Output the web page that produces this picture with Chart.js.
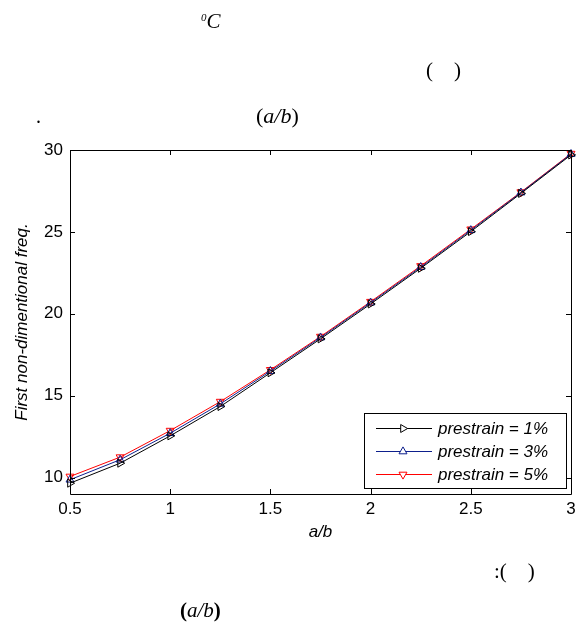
<!DOCTYPE html>
<html>
<head>
<meta charset="utf-8">
<script src="https://cdn.jsdelivr.net/npm/chart.js@4.4.1/dist/chart.umd.min.js"></script>
<style>
  html, body { margin: 0; padding: 0; background: #fff; }
  #wrap { position: relative; width: 581px; height: 624px; overflow: hidden; }
  canvas { position: absolute; left: 0; top: 0; }
  .t { position: absolute; font-family: "Liberation Serif", "Times New Roman", serif; color: #000; white-space: pre; line-height: 1; }
  .i { font-style: italic; }
</style>
</head>
<body>
<div id="wrap">
  <canvas id="c" width="581" height="624"></canvas>
  <div class="t i" style="left:201px;top:11px;font-size:21px;"><sup style="font-size:11px;vertical-align:7px;">0</sup>C</div>
  <div class="t" style="left:426px;top:60px;font-size:21px;">(    )</div>
  <div class="t" style="left:36px;top:106px;font-size:20px;">.</div>
  <div class="t" style="left:256px;top:105px;font-size:22px;">(<span class="i">a/b</span>)</div>
  <div class="t" style="left:494px;top:561px;font-size:21px;">:(    )</div>
  <div class="t" style="left:180px;top:600px;font-size:21px;"><b>(</b><span class="i">a/b</span><b>)</b></div>
</div>
<script>
// ---- data ----
const categories = [0.5, 0.75, 1, 1.25, 1.5, 1.75, 2, 2.25, 2.5, 2.75, 3];
const prestrain1 = [9.66, 10.88, 12.55, 14.34, 16.40, 18.47, 20.60, 22.78, 25.02, 27.35, 29.70];
const prestrain3 = [9.87, 11.09, 12.71, 14.50, 16.50, 18.55, 20.68, 22.85, 25.10, 27.40, 29.75];
const prestrain5 = [10.07, 11.25, 12.87, 14.64, 16.58, 18.61, 20.74, 22.92, 25.16, 27.43, 29.78];
const seriesLabels = ['prestrain = 1%', 'prestrain = 3%', 'prestrain = 5%'];
const xTicks = [0.5, 1, 1.5, 2, 2.5, 3];
const yTicks = [10, 15, 20, 25, 30];
const xTitle = 'a/b';
const yTitle = 'First non-dimentional freq.';

const FONT = "'Liberation Sans', Arial, sans-serif";

function pts(vals) { return categories.map((x, i) => ({ x: x, y: vals[i] })); }

function ds(label, vals, color, rot) {
  return {
    label: label,
    data: pts(vals),
    borderColor: color,
    backgroundColor: color,
    borderWidth: 1,
    pointStyle: 'triangle',
    rotation: rot,
    pointRadius: 4.6,
    pointHoverRadius: 4.6,
    pointBorderColor: color,
    pointBackgroundColor: 'rgba(0,0,0,0)',
    pointBorderWidth: 1,
    tension: 0,
    clip: false
  };
}

const frame = {
  id: 'frame',
  afterDraw(chart) {
    const ctx = chart.ctx, a = chart.chartArea;
    const xs = chart.scales.x, ys = chart.scales.y;
    ctx.save();
    ctx.strokeStyle = '#000';
    ctx.lineWidth = 1;
    ctx.beginPath();
    ctx.rect(Math.round(a.left) + 0.5, Math.round(a.top) + 0.5, Math.round(a.right - a.left), Math.round(a.bottom - a.top));
    ctx.stroke();
    const L = 5;
    ctx.beginPath();
    xs.ticks.forEach(t => {
      const px = Math.round(xs.getPixelForValue(t.value)) + 0.5;
      ctx.moveTo(px, a.bottom); ctx.lineTo(px, a.bottom - L);
      ctx.moveTo(px, a.top); ctx.lineTo(px, a.top + L);
    });
    ys.ticks.forEach(t => {
      const py = Math.round(ys.getPixelForValue(t.value)) + 0.5;
      ctx.moveTo(a.left, py); ctx.lineTo(a.left + L, py);
      ctx.moveTo(a.right, py); ctx.lineTo(a.right - L, py);
    });
    ctx.stroke();

    // legend box (inside the axes, lower right)
    const bx = 364.5, by = 413.5, bw = 202, bh = 75;
    ctx.fillStyle = '#fff';
    ctx.fillRect(bx, by, bw, bh);
    ctx.strokeStyle = '#000';
    ctx.strokeRect(bx, by, bw, bh);
    chart.data.datasets.forEach((d, i) => {
      const y = 428 + i * 23;
      ctx.strokeStyle = d.borderColor;
      ctx.lineWidth = 1;
      ctx.beginPath();
      ctx.moveTo(376, y + 0.5); ctx.lineTo(432, y + 0.5);
      ctx.stroke();
      ctx.fillStyle = '#ffffff';
      ctx.strokeStyle = d.pointBorderColor;
      Chart.helpers.drawPoint(ctx, {
        pointStyle: d.pointStyle, rotation: d.rotation, radius: d.pointRadius, borderWidth: 1
      }, 403, y + 0.5);
      ctx.fillStyle = '#000';
      ctx.font = 'italic 17px ' + FONT;
      ctx.textBaseline = 'middle';
      ctx.textAlign = 'left';
      ctx.fillText(d.label, 438, y + 1);
    });
    ctx.restore();
  }
};

new Chart(document.getElementById('c'), {
  type: 'line',
  data: {
    datasets: [
      ds(seriesLabels[0], prestrain1, '#000000', 90),
      ds(seriesLabels[1], prestrain3, '#0d1f8c', 0),
      ds(seriesLabels[2], prestrain5, '#ff0000', 180)
    ]
  },
  plugins: [frame],
  options: {
    responsive: false,
    animation: false,
    devicePixelRatio: 1,
    layout: { padding: { left: 0, top: 150, right: 10, bottom: 80 } },
    plugins: { legend: { display: false }, tooltip: { enabled: false } },
    scales: {
      x: {
        type: 'linear',
        min: 0.5, max: 3,
        afterBuildTicks: s => { s.ticks = xTicks.map(v => ({ value: v })); },
        afterFit: s => { s.height = 50; },
        grid: { display: false, drawTicks: false },
        border: { display: false },
        ticks: {
          color: '#000', padding: 5, maxRotation: 0, autoSkip: false,
          font: { family: FONT, size: 17 },
          callback: v => String(v)
        },
        title: {
          display: true, text: xTitle, color: '#000',
          font: { family: FONT, size: 17, style: 'italic' },
          padding: { top: 0, bottom: 2 }
        }
      },
      y: {
        type: 'linear',
        min: 9, max: 30,
        afterBuildTicks: s => { s.ticks = yTicks.map(v => ({ value: v })); },
        afterFit: s => { s.width = 70; },
        grid: { display: false, drawTicks: false },
        border: { display: false },
        ticks: {
          color: '#000', padding: 7, autoSkip: false,
          font: { family: FONT, size: 17 },
          callback: v => String(v)
        },
        title: {
          display: true, text: yTitle, color: '#000',
          font: { family: FONT, size: 17, style: 'italic' },
          padding: { top: 12, bottom: 0 }
        }
      }
    }
  }
});
</script>
</body>
</html>
